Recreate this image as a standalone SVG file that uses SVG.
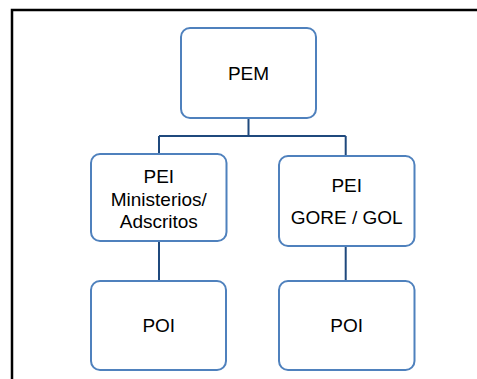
<svg xmlns="http://www.w3.org/2000/svg" width="477" height="379" viewBox="0 0 477 379">
<style>
.box{fill:#fff;stroke:#4F81BD;stroke-width:2}
.lbl{font-family:"Liberation Sans",Arial,sans-serif;font-size:19px;fill:#000;text-anchor:middle}
.con{fill:none;stroke:#1F497D;stroke-width:2}
</style>
<rect width="477" height="379" fill="#fff"/>
<path d="M12,382 V10 H480" fill="none" stroke="#000" stroke-width="2.5"/>
<g id="connectors">
<path class="con" d="M248.5,118 V136 M159,136 H345.7 M159,136 V154 M345.7,136 V156"/>
<path class="con" d="M159,241 V281 M345.7,246 V281"/>
</g>
<g id="pem">
<rect class="box" x="181" y="28" width="135" height="90" rx="9"/>
<text class="lbl" x="248.5" y="79.5">PEM</text>
</g>
<g id="pei-ministerios">
<rect class="box" x="91" y="154" width="135.5" height="87" rx="9"/>
<text class="lbl" x="158.8" y="183">PEI</text>
<text class="lbl" x="158.8" y="206">Ministerios/</text>
<text class="lbl" x="158.8" y="228">Adscritos</text>
</g>
<g id="pei-gore">
<rect class="box" x="279" y="156" width="135.5" height="90" rx="9"/>
<text class="lbl" x="346.7" y="192">PEI</text>
<text class="lbl" x="346.7" y="223.5">GORE / GOL</text>
</g>
<g id="poi-left">
<rect class="box" x="91" y="281" width="135" height="89" rx="9"/>
<text class="lbl" x="158.8" y="331.5">POI</text>
</g>
<g id="poi-right">
<rect class="box" x="279" y="281" width="135.5" height="89" rx="9"/>
<text class="lbl" x="346.7" y="331.5">POI</text>
</g>
</svg>
